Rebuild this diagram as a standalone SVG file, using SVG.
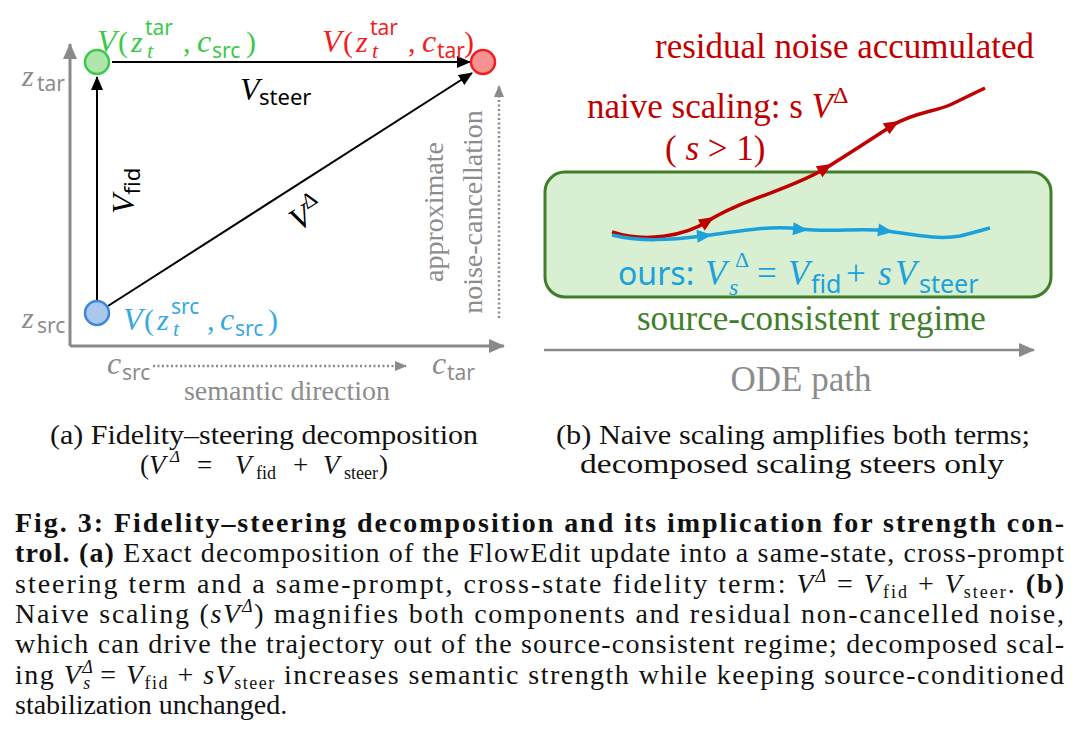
<svg xmlns="http://www.w3.org/2000/svg" xmlns:xlink="http://www.w3.org/1999/xlink" width="1074" height="753" viewBox="0 0 1074 753">
<style>
.serif{font-family:"Liberation Serif","Times New Roman",serif;}
.sans{font-family:"Noto Sans","DejaVu Sans",sans-serif;}
.it{font-style:italic;}
.gray{fill:#8c8c8c;}
.cap{font-family:"Liberation Serif","Times New Roman",serif;font-size:28px;fill:#111;}
.b{font-weight:bold;}
</style>
<defs>
<marker id="ahBlack" markerUnits="userSpaceOnUse" markerWidth="14" markerHeight="12" refX="13" refY="6" orient="auto"><path d="M0,0 L14,6 L0,12 Z" fill="#000"/></marker>
<marker id="ahGray" markerUnits="userSpaceOnUse" markerWidth="16" markerHeight="14" refX="15" refY="7" orient="auto"><path d="M0,0 L16,7 L0,14 Z" fill="#8a8a8a"/></marker>
<marker id="ahGraySmall" markerUnits="userSpaceOnUse" markerWidth="12" markerHeight="12" refX="11" refY="6" orient="auto"><path d="M0,1 L12,6 L0,11 Z" fill="#8a8a8a"/></marker>
<polygon id="tri" points="0,0 -15,-6.5 -15,6.5"/>
</defs>

<!-- ===== Panel (a) ===== -->
<g id="axes-a">
<line x1="70" y1="346" x2="70" y2="44" stroke="#8a8a8a" stroke-width="3" marker-end="url(#ahGray)"/>
<line x1="70" y1="346" x2="504" y2="346" stroke="#8a8a8a" stroke-width="3" marker-end="url(#ahGray)"/>
<text class="serif it gray" x="22" y="86" font-size="30">z</text><text class="sans gray" x="37" y="91" font-size="21">tar</text>
<text class="serif it gray" x="22" y="328" font-size="30">z</text><text class="sans gray" x="37" y="333" font-size="21">src</text>
<text class="serif it gray" x="107" y="374" font-size="32">c</text><text class="sans gray" x="122" y="380" font-size="21">src</text>
<text class="serif it gray" x="432" y="374" font-size="32">c</text><text class="sans gray" x="447" y="380" font-size="21">tar</text>
</g>

<g id="connectors">
<line x1="112" y1="62" x2="470" y2="62" stroke="#000" stroke-width="2" marker-end="url(#ahBlack)"/>
<line x1="97" y1="300" x2="97" y2="77" stroke="#000" stroke-width="2" marker-end="url(#ahBlack)"/>
<line x1="108" y1="306" x2="472" y2="73" stroke="#000" stroke-width="2" marker-end="url(#ahBlack)"/>
<line x1="153" y1="366" x2="406" y2="366" stroke="#8a8a8a" stroke-width="2.5" stroke-dasharray="2 2.5" marker-end="url(#ahGraySmall)"/>
<line x1="499" y1="318" x2="499" y2="86" stroke="#8a8a8a" stroke-width="2.5" stroke-dasharray="2 2.5" marker-end="url(#ahGraySmall)"/>
</g>

<g id="node-green">
<circle cx="97" cy="62" r="12" fill="#b0e6ae" stroke="#3cc84a" stroke-width="2.5"/>
<g fill="#3cc84a">
<text class="serif it" x="97" y="52" font-size="32">V</text>
<text class="serif" x="118" y="52" font-size="30">(</text>
<text class="serif it" x="131" y="52" font-size="30">z</text>
<text class="sans" x="145" y="35" font-size="21">tar</text>
<text class="serif it" x="147" y="58" font-size="22">t</text>
<text class="serif" x="183" y="52" font-size="30">,</text>
<text class="serif it" x="197" y="52" font-size="32">c</text>
<text class="sans" x="212" y="58" font-size="21">src</text>
<text class="serif" x="246" y="52" font-size="30">)</text>
</g>
</g>

<g id="node-red">
<circle cx="483" cy="62" r="12" fill="#f79292" stroke="#f01e1e" stroke-width="2.5"/>
<g fill="#f01e1e">
<text class="serif it" x="322" y="52" font-size="32">V</text>
<text class="serif" x="343" y="52" font-size="30">(</text>
<text class="serif it" x="356" y="52" font-size="30">z</text>
<text class="sans" x="370" y="35" font-size="21">tar</text>
<text class="serif it" x="372" y="58" font-size="22">t</text>
<text class="serif" x="408" y="52" font-size="30">,</text>
<text class="serif it" x="422" y="52" font-size="32">c</text>
<text class="sans" x="437" y="58" font-size="21">tar</text>
<text class="serif" x="464" y="52" font-size="30">)</text>
</g>
</g>

<g id="node-blue">
<circle cx="97" cy="313" r="12" fill="#a9c8ec" stroke="#3d86d8" stroke-width="2.5"/>
<g fill="#35a9e1">
<text class="serif it" x="123" y="330" font-size="32">V</text>
<text class="serif" x="144" y="330" font-size="30">(</text>
<text class="serif it" x="157" y="330" font-size="30">z</text>
<text class="sans" x="171" y="314" font-size="21">src</text>
<text class="serif it" x="173" y="336" font-size="22">t</text>
<text class="serif" x="207" y="330" font-size="30">,</text>
<text class="serif it" x="220" y="330" font-size="32">c</text>
<text class="sans" x="235" y="336" font-size="21">src</text>
<text class="serif" x="268" y="330" font-size="30">)</text>
</g>
</g>

<g id="edge-labels">
<text class="serif it" x="240" y="100" font-size="32">V</text><text class="sans" x="259" y="105" font-size="22">steer</text>
<text class="serif" transform="translate(134,214) rotate(-90)" font-size="32"><tspan class="it">V</tspan><tspan class="sans" font-size="22" dy="6">fid</tspan></text>
<text class="serif" transform="translate(298,232) rotate(-32.6)" font-size="32"><tspan class="it">V</tspan><tspan font-size="22" dy="-14">Δ</tspan></text>
</g>

<g id="annot-a" class="serif gray" font-size="28">
<text text-anchor="middle" x="287" y="400">semantic direction</text>
<text text-anchor="middle" transform="translate(443,212) rotate(-90)">approximate</text>
<text text-anchor="middle" transform="translate(482,212) rotate(-90)">noise-cancellation</text>
</g>

<!-- ===== Panel (b) ===== -->
<g id="regime">
<rect x="545" y="172" width="506" height="125" rx="20" ry="20" fill="#d9efd1" stroke="#3f7f2a" stroke-width="3"/>
<text class="serif" x="637" y="330" font-size="35" fill="#3f7f2a">source-consistent regime</text>
</g>

<g id="ode-axis">
<line x1="544" y1="350" x2="1034" y2="350" stroke="#8a8a8a" stroke-width="2.5" marker-end="url(#ahGray)"/>
<text class="serif gray" x="801" y="391" font-size="35" text-anchor="middle">ODE path</text>
</g>

<g id="naive-path">
<path d="M612,232 C645,243 685,236 708,221 C740,200 790,190 826,168 C850,153 870,140 893,125 C915,112 935,112 952,104 L985,88" fill="none" stroke="#c00000" stroke-width="3.5"/>
<g fill="#c00000">
<use xlink:href="#tri" transform="translate(714,217) rotate(-32)"/>
<use xlink:href="#tri" transform="translate(832,164) rotate(-31)"/>
<use xlink:href="#tri" transform="translate(899,121) rotate(-31)"/>
</g>
<g class="serif" fill="#c00000" font-size="35">
<text x="655" y="58">residual noise accumulated</text>
<text x="587" y="118">naive scaling: s <tspan class="it">V</tspan><tspan font-size="24" dy="-15">Δ</tspan></text>
<text x="665" y="160">( <tspan class="it">s</tspan> &gt; 1)</text>
</g>
</g>

<g id="ours-path">
<path d="M612,235 C640,242 670,240 703,236 C740,231 770,225 800,229 C835,233 860,227 887,231 C915,235 940,240 960,236 C972,233 982,230 990,228" fill="none" stroke="#1ba1dc" stroke-width="3.5"/>
<g fill="#1ba1dc">
<use xlink:href="#tri" transform="translate(712,235) rotate(-5)"/>
<use xlink:href="#tri" transform="translate(808,230) rotate(5)"/>
<use xlink:href="#tri" transform="translate(893,232) rotate(8)"/>
</g>
<g fill="#1ba1dc">
<text class="sans" x="618" y="285" font-size="32">ours:</text>
<text class="serif it" x="705" y="285" font-size="35">V</text>
<text class="serif it" x="729" y="295" font-size="24">s</text>
<text class="serif" x="735" y="267" font-size="22">Δ</text>
<text class="serif" x="757" y="285" font-size="35">=</text>
<text class="serif it" x="788" y="285" font-size="35">V</text>
<text class="sans" x="811" y="293" font-size="25">fid</text>
<text class="serif" x="846" y="285" font-size="35">+</text>
<text class="serif it" x="878" y="285" font-size="35">s</text>
<text class="serif it" x="895" y="285" font-size="35">V</text>
<text class="sans" x="919" y="293" font-size="25">steer</text>
</g>
</g>

<!-- ===== Sub-captions ===== -->
<g id="subcaptions" class="serif" font-size="27" fill="#111">
<text x="264" y="444" text-anchor="middle" textLength="428" lengthAdjust="spacingAndGlyphs">(a) Fidelity–steering decomposition</text>
<g id="subcap-a-formula">
<text x="140" y="474">(</text>
<text class="it" x="149" y="474">V</text>
<text class="it" x="170" y="462" font-size="17">Δ</text>
<text x="197" y="474">=</text>
<text class="it" x="235" y="474">V</text>
<text x="256" y="479" font-size="18">fid</text>
<text x="293" y="474">+</text>
<text class="it" x="323" y="474">V</text>
<text x="344" y="479" font-size="18">steer</text>
<text x="379" y="474">)</text>
</g>
<text x="793" y="444" text-anchor="middle" textLength="474" lengthAdjust="spacingAndGlyphs">(b) Naive scaling amplifies both terms;</text>
<text x="792" y="473" text-anchor="middle" textLength="424" lengthAdjust="spacingAndGlyphs">decomposed scaling steers only</text>
</g>

<!-- ===== Main caption ===== -->
<g id="caption">
<text class="cap b" x="15" y="532" textLength="1049" lengthAdjust="spacing">Fig. 3: Fidelity–steering decomposition and its implication for strength con-</text>
<text class="cap" x="15" y="562" textLength="1049" lengthAdjust="spacing"><tspan class="b">trol. (a)</tspan> Exact decomposition of the FlowEdit update into a same-state, cross-prompt</text>
<text class="cap" x="15" y="593" textLength="1049" lengthAdjust="spacing">steering term and a same-prompt, cross-state fidelity term: <tspan class="it">V</tspan><tspan class="it" font-size="18" dy="-11">Δ</tspan><tspan dy="11"> = </tspan><tspan class="it">V</tspan><tspan font-size="18" dy="5">fid</tspan><tspan dy="-5"> + </tspan><tspan class="it">V</tspan><tspan font-size="18" dy="5">steer</tspan><tspan dy="-5">. </tspan><tspan class="b">(b)</tspan></text>
<text class="cap" x="15" y="623" textLength="1049" lengthAdjust="spacing">Naive scaling (<tspan class="it">sV</tspan><tspan class="it" font-size="18" dy="-11">Δ</tspan><tspan dy="11">) magnifies both components and residual non-cancelled noise,</tspan></text>
<text class="cap" x="15" y="653" textLength="1049" lengthAdjust="spacing">which can drive the trajectory out of the source-consistent regime; decomposed scal-</text>
<text class="cap" x="15" y="684" textLength="1049" lengthAdjust="spacing">ing <tspan class="it">V</tspan><tspan class="it" font-size="18" dy="-11">Δ</tspan><tspan class="it" font-size="18" dx="-11" dy="16">s</tspan><tspan dy="-5"> = </tspan><tspan class="it">V</tspan><tspan font-size="18" dy="5">fid</tspan><tspan dy="-5"> + </tspan><tspan class="it">sV</tspan><tspan font-size="18" dy="5">steer</tspan><tspan dy="-5"> increases semantic strength while keeping source-conditioned</tspan></text>
<text class="cap" x="15" y="714">stabilization unchanged.</text>
</g>
</svg>
